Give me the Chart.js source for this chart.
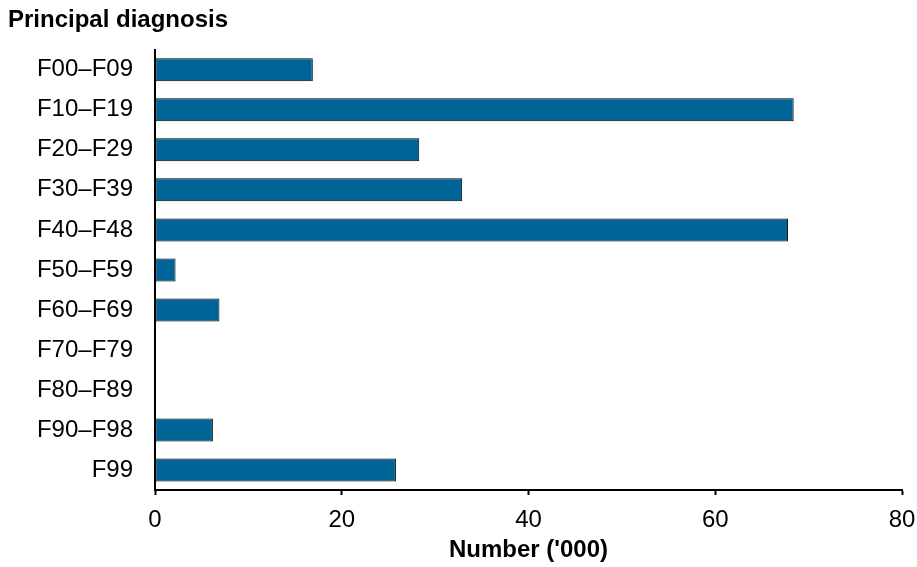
<!DOCTYPE html>
<html>
<head>
    <meta charset="UTF-8">
    <title>Principal diagnosis</title>
    <style>
        body { margin: 0; background: #fff; }
        #wrap { width: 917px; height: 567px; }
    </style>
</head>
<body>
<div id="wrap">
    <canvas id="myChart" width="917" height="567"></canvas>
</div>
<script src="https://cdn.jsdelivr.net/npm/chart.js@4"></script>
<script>
    // data
    var diagnosisLabels = ['F00\u2013F09', 'F10\u2013F19', 'F20\u2013F29', 'F30\u2013F39', 'F40\u2013F48',
        'F50\u2013F59', 'F60\u2013F69', 'F70\u2013F79', 'F80\u2013F89', 'F90\u2013F98', 'F99'];
    var numberThousands = [16.9, 68.4, 28.3, 32.9, 67.8, 2.2, 6.9, 0, 0, 6.2, 25.8];
    var xTicks = [0, 20, 40, 60, 80];

    var fontFam = '"Liberation Sans", Arial, sans-serif';

    let ctx = document.getElementById('myChart').getContext('2d');
    let chart = new Chart(ctx, {
        type: 'bar',
        data: {
            labels: diagnosisLabels,
            datasets: [{
                label: "Number ('000)",
                backgroundColor: '#006496',
                borderColor: '#000',
                borderWidth: 1,
                borderSkipped: false,
                barPercentage: 0.575,
                categoryPercentage: 1,
                data: numberThousands
            }]
        },
        options: {
            indexAxis: 'y',
            responsive: false,
            animation: false,
            layout: { padding: { left: 8, right: 0, top: 0, bottom: 0 } },
            plugins: {
                legend: { display: false },
                tooltip: { enabled: false },
                title: {
                    display: true,
                    text: 'Principal diagnosis',
                    align: 'start',
                    color: '#000',
                    font: { family: fontFam, size: 24, weight: 'bold' },
                    padding: { top: 6, bottom: 15 }
                }
            },
            scales: {
                x: {
                    min: 0,
                    max: 80,
                    afterBuildTicks: function (scale) {
                        scale.ticks = xTicks.map(function (v) { return { value: v }; });
                    },
                    afterFit: function (scale) {
                        scale.height = 77;
                        scale.paddingRight = 15;
                    },
                    grid: {
                        drawOnChartArea: false,
                        drawTicks: true,
                        tickLength: 5,
                        tickWidth: 2,
                        color: '#000'
                    },
                    border: { color: '#000', width: 2 },
                    ticks: {
                        color: '#000',
                        padding: 11,
                        maxRotation: 0,
                        font: { family: fontFam, size: 24 }
                    },
                    title: {
                        display: true,
                        text: "Number ('000)",
                        color: '#000',
                        font: { family: fontFam, size: 24, weight: 'bold' },
                        padding: { top: 2, bottom: 2 }
                    }
                },
                y: {
                    afterFit: function (scale) { scale.width = 147; },
                    grid: { display: false, drawTicks: false },
                    border: { color: '#000', width: 2 },
                    ticks: {
                        color: '#000',
                        padding: 22,
                        font: { family: fontFam, size: 24 }
                    }
                }
            }
        }
    });
</script>
</body>
</html>
